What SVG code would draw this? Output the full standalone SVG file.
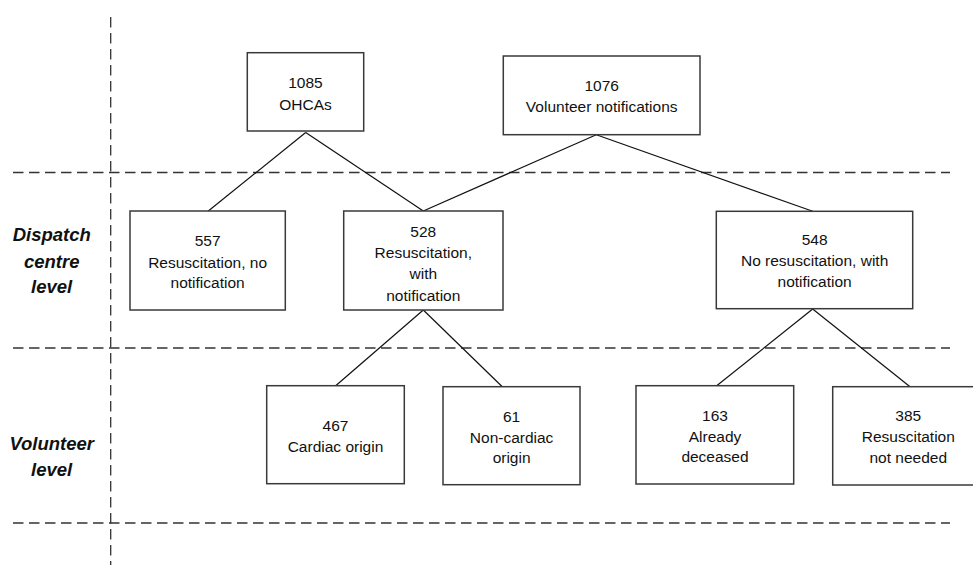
<svg xmlns="http://www.w3.org/2000/svg" width="973" height="565" viewBox="0 0 973 565">
<style>
.bg{fill:#ffffff}
.guide{stroke:#333333;stroke-width:1.3;stroke-dasharray:10.5 5.5;fill:none}
.box{fill:#ffffff;stroke:#3a3a3a;stroke-width:1.5}
.conn{stroke:#111111;stroke-width:1.2;fill:none}
.t{font-family:"Liberation Sans",Arial,sans-serif;font-size:15.5px;fill:#111111;text-anchor:middle}
.lvl{font-family:"Liberation Sans",Arial,sans-serif;font-size:18.5px;font-weight:bold;font-style:italic;fill:#111111;text-anchor:middle}
</style>
<rect class="bg" x="0" y="0" width="973" height="565"/>
<g id="guides">
<line class="guide" x1="110.7" y1="17" x2="110.7" y2="565"/>
<line class="guide" x1="13" y1="172.5" x2="950" y2="172.5"/>
<line class="guide" x1="13" y1="348" x2="950" y2="348"/>
<line class="guide" x1="13" y1="523" x2="950" y2="523"/>
</g>
<g id="level-labels">
<text class="lvl" x="51.7" y="240.8">Dispatch</text>
<text class="lvl" x="51.7" y="267.5">centre</text>
<text class="lvl" x="51.7" y="293.2">level</text>
<text class="lvl" x="51.7" y="449.8">Volunteer</text>
<text class="lvl" x="51.7" y="475.8">level</text>
</g>
<g id="connectors">
<line class="conn" x1="305.7" y1="132.5" x2="208.3" y2="211"/>
<line class="conn" x1="305.7" y1="132.5" x2="423.3" y2="211"/>
<line class="conn" x1="596.3" y1="134.7" x2="423.3" y2="211"/>
<line class="conn" x1="596.3" y1="134.7" x2="812.7" y2="211.3"/>
<line class="conn" x1="423.3" y1="310" x2="335.7" y2="385.7"/>
<line class="conn" x1="423.3" y1="310" x2="502.3" y2="386.7"/>
<line class="conn" x1="812.7" y1="309" x2="716.7" y2="385.7"/>
<line class="conn" x1="812.7" y1="309" x2="910" y2="386.7"/>
</g>
<g id="n-ohca">
<rect class="box" x="247.3" y="52.7" width="116.4" height="78.3"/>
<text class="t" x="305.5" y="87.5">1085</text>
<text class="t" x="305.5" y="109.5">OHCAs</text>
</g>
<g id="n-notif">
<rect class="box" x="503.3" y="56" width="196.7" height="78.7"/>
<text class="t" x="601.7" y="91.2">1076</text>
<text class="t" x="601.7" y="112.2">Volunteer notifications</text>
</g>
<g id="n-557">
<rect class="box" x="130" y="211" width="155.3" height="99"/>
<text class="t" x="207.6" y="246.2">557</text>
<text class="t" x="207.6" y="267.8">Resuscitation, no</text>
<text class="t" x="207.6" y="287.5">notification</text>
</g>
<g id="n-528">
<rect class="box" x="343.7" y="211" width="159.3" height="99"/>
<text class="t" x="423.3" y="237">528</text>
<text class="t" x="423.3" y="258">Resuscitation,</text>
<text class="t" x="423.3" y="279">with</text>
<text class="t" x="423.3" y="300.5">notification</text>
</g>
<g id="n-548">
<rect class="box" x="716.3" y="211.3" width="196.4" height="97.4"/>
<text class="t" x="814.6" y="244.8">548</text>
<text class="t" x="814.6" y="266.2">No resuscitation, with</text>
<text class="t" x="814.6" y="286.8">notification</text>
</g>
<g id="n-467">
<rect class="box" x="266.7" y="385.7" width="137.6" height="98"/>
<text class="t" x="335.5" y="430.5">467</text>
<text class="t" x="335.5" y="451.5">Cardiac origin</text>
</g>
<g id="n-61">
<rect class="box" x="443" y="386.7" width="137" height="98"/>
<text class="t" x="511.6" y="421.5">61</text>
<text class="t" x="511.6" y="442.8">Non-cardiac</text>
<text class="t" x="511.6" y="463.2">origin</text>
</g>
<g id="n-163">
<rect class="box" x="636" y="385.7" width="157.7" height="98.3"/>
<text class="t" x="715" y="420.5">163</text>
<text class="t" x="715" y="441.5">Already</text>
<text class="t" x="715" y="462.2">deceased</text>
</g>
<g id="n-385">
<rect class="box" x="832.7" y="386.7" width="152" height="98.3"/>
<text class="t" x="908.3" y="421.2">385</text>
<text class="t" x="908.3" y="442.2">Resuscitation</text>
<text class="t" x="908.3" y="462.8">not needed</text>
</g>
</svg>
